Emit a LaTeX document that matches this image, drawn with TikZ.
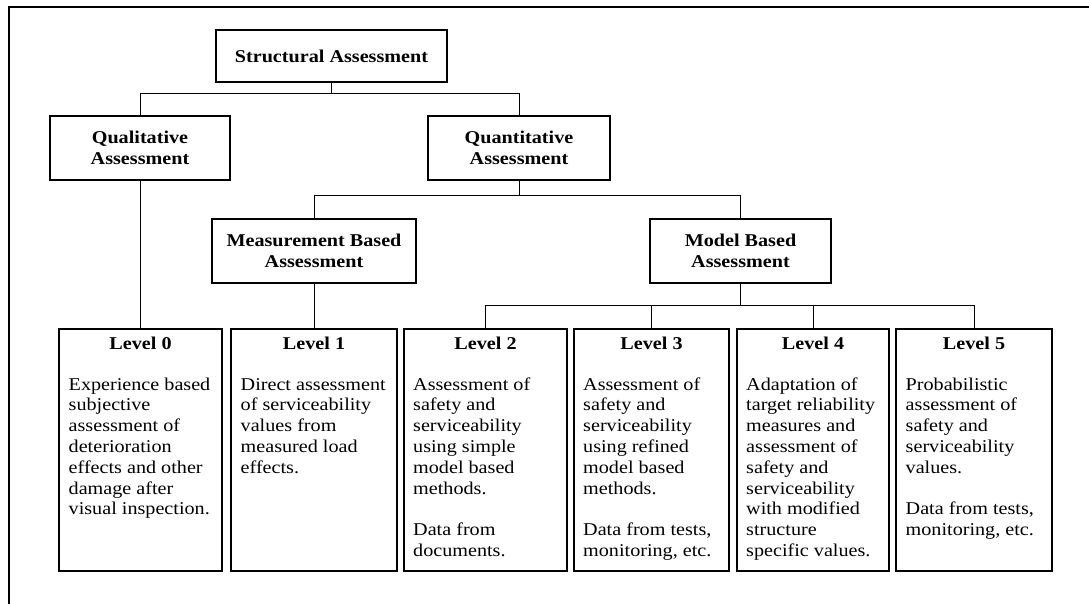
\documentclass[tikz,border=0pt]{standalone}
\usepackage{fontspec}
\setmainfont[FakeStretch=1.12]{Liberation Serif}
\begin{document}
\begin{tikzpicture}[x=1pt,y=-1pt,
  hbox/.style={draw, line width=1.6pt, inner sep=0pt, outer sep=0pt, align=center,
    font=\fontsize{18}{20.8}\selectfont\bfseries},
  lvbox/.style={draw, line width=1.6pt, inner sep=0pt, outer sep=0pt, minimum height=242pt},
  lvhead/.style={anchor=base, inner sep=0pt, font=\fontsize{18}{20.8}\selectfont\bfseries},
  lvbody/.style={anchor=base west, inner sep=0pt, font=\fontsize{18}{20.8}\selectfont},
  conn/.style={line width=0.9pt},
  frame/.style={line width=2pt}]
\useasboundingbox (0,0) rectangle (1089,604);
\draw[frame] (8.5,604) -- (8.5,6.7) -- (1089,6.7);

% upper boxes
\node[hbox, minimum width=231pt, minimum height=52pt] (SA) at (331.5,56) {Structural Assessment};
\node[hbox, minimum width=180pt, minimum height=64pt] (QL) at (140,148) {Qualitative\\Assessment};
\node[hbox, minimum width=182pt, minimum height=64pt] (QN) at (519,148) {Quantitative\\Assessment};
\node[hbox, minimum width=204pt, minimum height=64pt] (MB) at (314,251) {Measurement Based\\Assessment};
\node[hbox, minimum width=181pt, minimum height=64pt] (MO) at (740.5,251) {Model Based\\Assessment};

% level boxes
\node[lvbox, minimum width=163pt] (L0) at (140.5,450) {};
\node[lvbox, minimum width=166pt] (L1) at (314,450) {};
\node[lvbox, minimum width=163pt] (L2) at (485.5,450) {};
\node[lvbox, minimum width=155pt] (L3) at (651.5,450) {};
\node[lvbox, minimum width=152pt] (L4) at (813,450) {};
\node[lvbox, minimum width=156pt] (L5) at (974,450) {};

\node[lvhead] (L0h) at (140.5,349) {Level 0};
\node[lvhead] (L1h) at (314,349) {Level 1};
\node[lvhead] (L2h) at (485.5,349) {Level 2};
\node[lvhead] (L3h) at (651.5,349) {Level 3};
\node[lvhead] (L4h) at (813,349) {Level 4};
\node[lvhead] (L5h) at (974,349) {Level 5};

\node[lvbody] (L0b) at (68.5,390) {\parbox[t]{152pt}{\raggedright Experience based\\subjective\\assessment of\\deterioration\\effects and other\\damage after\\visual inspection.}};
\node[lvbody] (L1b) at (240.5,390) {\parbox[t]{155pt}{\raggedright Direct assessment\\of serviceability\\values from\\measured load\\effects.}};
\node[lvbody] (L2b) at (413,390) {\parbox[t]{152pt}{\raggedright Assessment of\\safety and\\serviceability\\using simple\\model based\\methods.\\[20.8pt]Data from\\documents.}};
\node[lvbody] (L3b) at (583,390) {\parbox[t]{145pt}{\raggedright Assessment of\\safety and\\serviceability\\using refined\\model based\\methods.\\[20.8pt]Data from tests,\\monitoring, etc.}};
\node[lvbody] (L4b) at (746,390) {\parbox[t]{142pt}{\raggedright Adaptation of\\target reliability\\measures and\\assessment of\\safety and\\serviceability\\with modified\\structure\\specific values.}};
\node[lvbody] (L5b) at (905.5,390) {\parbox[t]{145pt}{\raggedright Probabilistic\\assessment of\\safety and\\serviceability\\values.\\[20.8pt]Data from tests,\\monitoring, etc.}};

% connectors
\draw[conn] (SA.south) -- ++(0,11) -| (QL.north);
\draw[conn] (SA.south) -- ++(0,11) -| (QN.north);
\draw[conn] (QL.south) -- (QL.south |- L0.north);
\draw[conn] (QN.south) -- ++(0,15.5) -| (MB.north);
\draw[conn] (QN.south) -- ++(0,15.5) -| (MO.north);
\draw[conn] (MB.south) -- (L1.north);
\draw[conn] (MO.south) -- ++(0,22.7) -| (L2.north);
\draw[conn] (MO.south) -- ++(0,22.7) -| (L3.north);
\draw[conn] (MO.south) -- ++(0,22.7) -| (L4.north);
\draw[conn] (MO.south) -- ++(0,22.7) -| (L5.north);
\end{tikzpicture}
\end{document}
